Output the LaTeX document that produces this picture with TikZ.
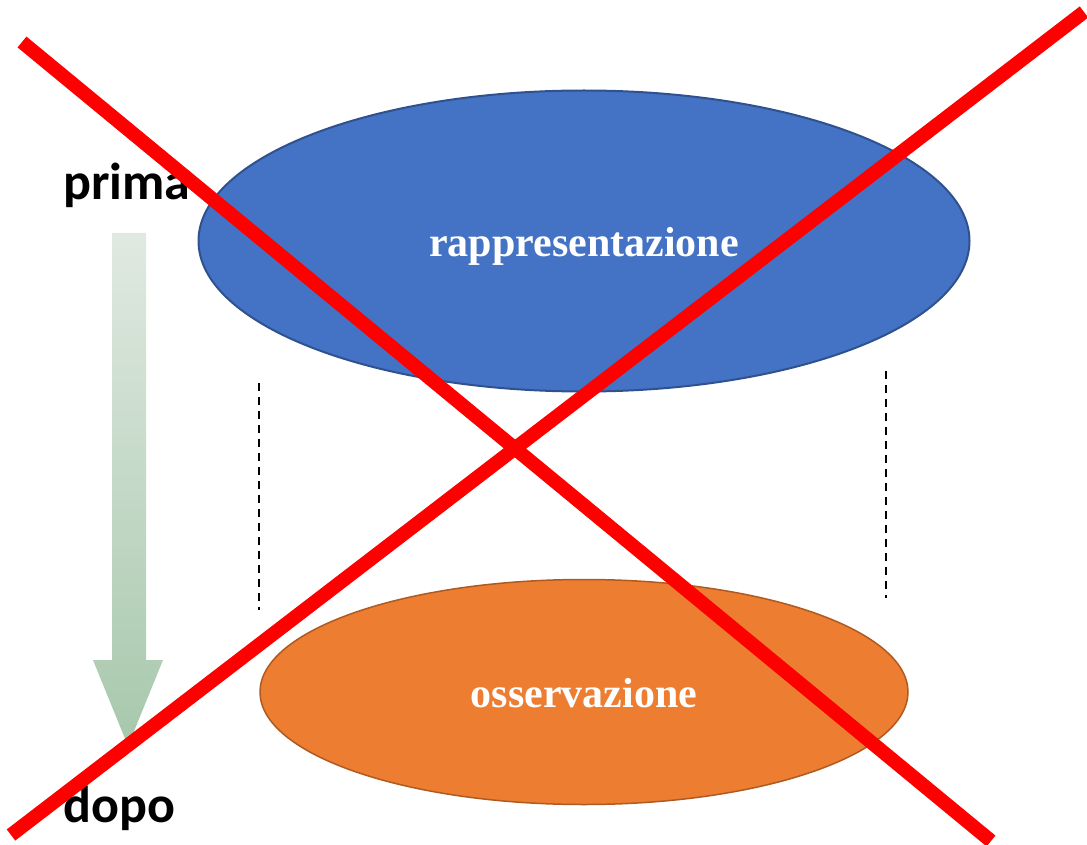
\documentclass[tikz,border=0pt]{standalone}
\usepackage{fontspec}
\setmainfont{Liberation Serif}
\newfontfamily\labelfont{Carlito}
\usetikzlibrary{shapes.geometric}

\definecolor{blueFill}{HTML}{4472C4}
\definecolor{blueLine}{HTML}{2F528F}
\definecolor{orangeFill}{HTML}{ED7D31}
\definecolor{orangeLine}{HTML}{AE5A21}
\definecolor{arrowTop}{HTML}{E0E9E1}
\definecolor{arrowBottom}{HTML}{A7C8AC}

\tikzset{
  phase/.style={ellipse,inner sep=0pt,line width=2pt,text=white,
    font=\fontsize{42}{48}\selectfont\bfseries,
    text height=31pt,text depth=0pt},
  timelabel/.style={anchor=base west,inner sep=0pt,
    font=\labelfont\fontsize{52}{60}\selectfont\bfseries},
  guide/.style={draw=black,line width=1.5pt,dash pattern=on 8pt off 6pt},
  cross/.style={draw=red,line width=14pt}
}

\begin{document}
\begin{tikzpicture}[x=1pt,y=-1pt]
\useasboundingbox (0,0) rectangle (1087,845);

% time arrow
\shade[top color=arrowTop,bottom color=arrowBottom]
  (112,233) -- (146,233) -- (146,660) -- (163,660) -- (128,746)
  -- (93,660) -- (112,660) -- cycle;

\node[timelabel] (prima) at (63,200) {prima};
\node[timelabel] (dopo) at (63,822) {dopo};

% the two ellipses
\node[phase,fill=blueFill,draw=blueLine,
  minimum width=771pt,minimum height=301pt] (rappr) at (584,241)
  {rappresentazione};
\node[phase,fill=orangeFill,draw=orangeLine,line width=1.5pt,
  minimum width=648pt,minimum height=225pt] (osserv) at (584,692)
  {osservazione};

% dashed guides
\coordinate (gl1) at (259,383);
\coordinate (gl2) at (259,610);
\coordinate (gr1) at (886,371);
\coordinate (gr2) at (886,598);
\draw[guide] (gl1) -- (gl2);
\draw[guide] (gr1) -- (gr2);

% red cross
\coordinate (xa1) at (22,42);
\coordinate (xa2) at (991,841);
\coordinate (xb1) at (1084,12);
\coordinate (xb2) at (11,835);
\draw[cross] (xa1) -- (xa2);
\draw[cross] (xb1) -- (xb2);
\end{tikzpicture}
\end{document}
